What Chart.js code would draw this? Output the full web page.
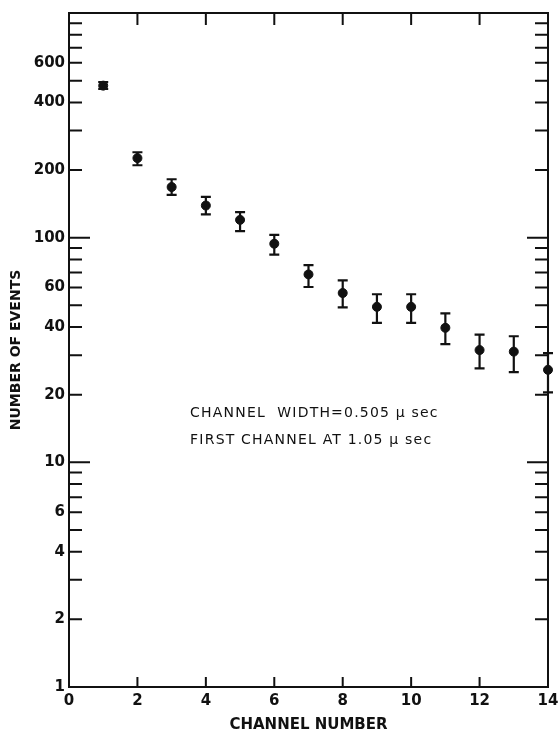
<!DOCTYPE html>
<html lang="en">
<head>
<meta charset="UTF-8">
<title>Number of events per channel</title>
<script src="https://cdn.jsdelivr.net/npm/chart.js"></script>
<style>
	html, body { margin: 0; padding: 0; background: #fff; }
	#wrap { width: 558px; height: 734px; }
</style>
</head>
<body>
<div id="wrap"><canvas id="myChart"></canvas></div>
<script>
	// values
	const channels = [1, 2, 3, 4, 5, 6, 7, 8, 9, 10, 11, 12, 13, 14];
	const events   = [475, 226, 168, 139, 120, 94, 68.6, 56.7, 49.2, 49.2, 39.7, 31.6, 31.1, 25.8];
	const errHigh  = [493, 240, 182, 152, 130, 103, 75.4, 64.5, 56, 56, 46, 37, 36.4, 30.6];
	const errLow   = [459, 210, 155, 127, 107, 84, 60.3, 48.9, 41.8, 41.8, 33.6, 26.2, 25.2, 20.5];

	const yLabels = [1, 2, 4, 6, 10, 20, 40, 60, 100, 200, 400, 600];
	const yMinor  = [3, 5, 7, 8, 9, 30, 50, 70, 80, 90, 300, 500, 700, 800, 900];
	const yMajor  = [10, 100];
	const xLabels = [0, 2, 4, 6, 8, 10, 12, 14];
	const xTicks  = [2, 4, 6, 8, 10, 12];

	const notes = [
		{x: 3.54, y: 16.6, text: 'CHANNEL  WIDTH=0.505 \u03BC sec'},
		{x: 3.54, y: 12.5, text: 'FIRST CHANNEL AT 1.05 \u03BC sec'}
	];

	const pts = channels.map((c, i) => ({x: c, y: events[i]}));

	// frame, inward ticks, error bars, notes
	const decor = {
		id: 'decor',
		afterDatasetsDraw(chart) {
			const ctx = chart.ctx;
			const a = chart.chartArea;
			const xs = chart.scales.x, ys = chart.scales.y;
			ctx.save();
			ctx.strokeStyle = '#111';
			ctx.lineWidth = 2;
			ctx.strokeRect(a.left, a.top, a.right - a.left, a.bottom - a.top);

			ctx.beginPath();
			const yTick = (v, len) => {
				const p = ys.getPixelForValue(v);
				ctx.moveTo(a.left, p); ctx.lineTo(a.left + len, p);
				ctx.moveTo(a.right, p); ctx.lineTo(a.right - len, p);
			};
			yLabels.concat(yMinor).forEach(v => yTick(v, yMajor.includes(v) ? 21 : 13));
			xTicks.forEach(v => {
				const p = xs.getPixelForValue(v);
				ctx.moveTo(p, a.bottom); ctx.lineTo(p, a.bottom - 10);
				ctx.moveTo(p, a.top); ctx.lineTo(p, a.top + 12);
			});
			ctx.stroke();

			// error bars
			ctx.lineWidth = 2.2;
			ctx.beginPath();
			channels.forEach((c, i) => {
				const px = xs.getPixelForValue(c);
				const hi = ys.getPixelForValue(errHigh[i]);
				const lo = ys.getPixelForValue(errLow[i]);
				ctx.moveTo(px, hi); ctx.lineTo(px, lo);
				ctx.moveTo(px - 5, hi); ctx.lineTo(px + 5, hi);
				ctx.moveTo(px - 5, lo); ctx.lineTo(px + 5, lo);
			});
			ctx.stroke();

			ctx.fillStyle = '#111';
			ctx.font = '14px "DejaVu Sans"';
			ctx.letterSpacing = '1.2px';
			ctx.textBaseline = 'middle';
			notes.forEach(n => {
				ctx.fillText(n.text, xs.getPixelForValue(n.x), ys.getPixelForValue(n.y));
			});
			ctx.restore();
		}
	};

	const myChart = document.getElementById('myChart');

	new Chart(myChart, {
		type: 'scatter',
		data: {
			datasets: [{
				data: pts,
				pointRadius: 4.5,
				pointBackgroundColor: '#111',
				pointBorderColor: '#111',
				clip: false
			}]
		},
		options: {
			responsive: true,
			maintainAspectRatio: false,
			animation: false,
			layout: { padding: { top: 13, right: 10, left: 0, bottom: 0 } },
			plugins: { legend: { display: false }, tooltip: { enabled: false } },
			scales: {
				x: {
					type: 'linear',
					min: 0,
					max: 14,
					afterFit: s => { s.height = 47; s.paddingLeft = 0; s.paddingRight = 0; },
					afterBuildTicks: s => { s.ticks = xLabels.map(v => ({value: v})); },
					grid: { display: false, drawTicks: false },
					border: { display: false },
					ticks: { color: '#111', padding: 5, maxRotation: 0, font: { family: 'DejaVu Sans', size: 15, weight: 'bold' } },
					title: {
						display: true,
						text: 'CHANNEL NUMBER',
						color: '#111',
						padding: { top: 7, bottom: 0 },
						font: { family: 'DejaVu Sans', size: 15, weight: 'bold' }
					}
				},
				y: {
					type: 'logarithmic',
					min: 1,
					max: 1000,
					afterFit: s => { s.width = 69; s.paddingTop = 0; s.paddingBottom = 0; },
					afterBuildTicks: s => { s.ticks = yLabels.map(v => ({value: v})); },
					grid: { display: false, drawTicks: false },
					border: { display: false },
					ticks: {
						color: '#111',
						padding: 4,
						font: { family: 'DejaVu Sans', size: 15, weight: 'bold' },
						callback: v => String(v)
					},
					title: {
						display: true,
						text: 'NUMBER OF EVENTS',
						color: '#111',
						padding: { top: 8, bottom: 0 },
						font: { family: 'DejaVu Sans', size: 14, weight: 'bold' }
					}
				}
			}
		},
		plugins: [decor]
	});
</script>
</body>
</html>
